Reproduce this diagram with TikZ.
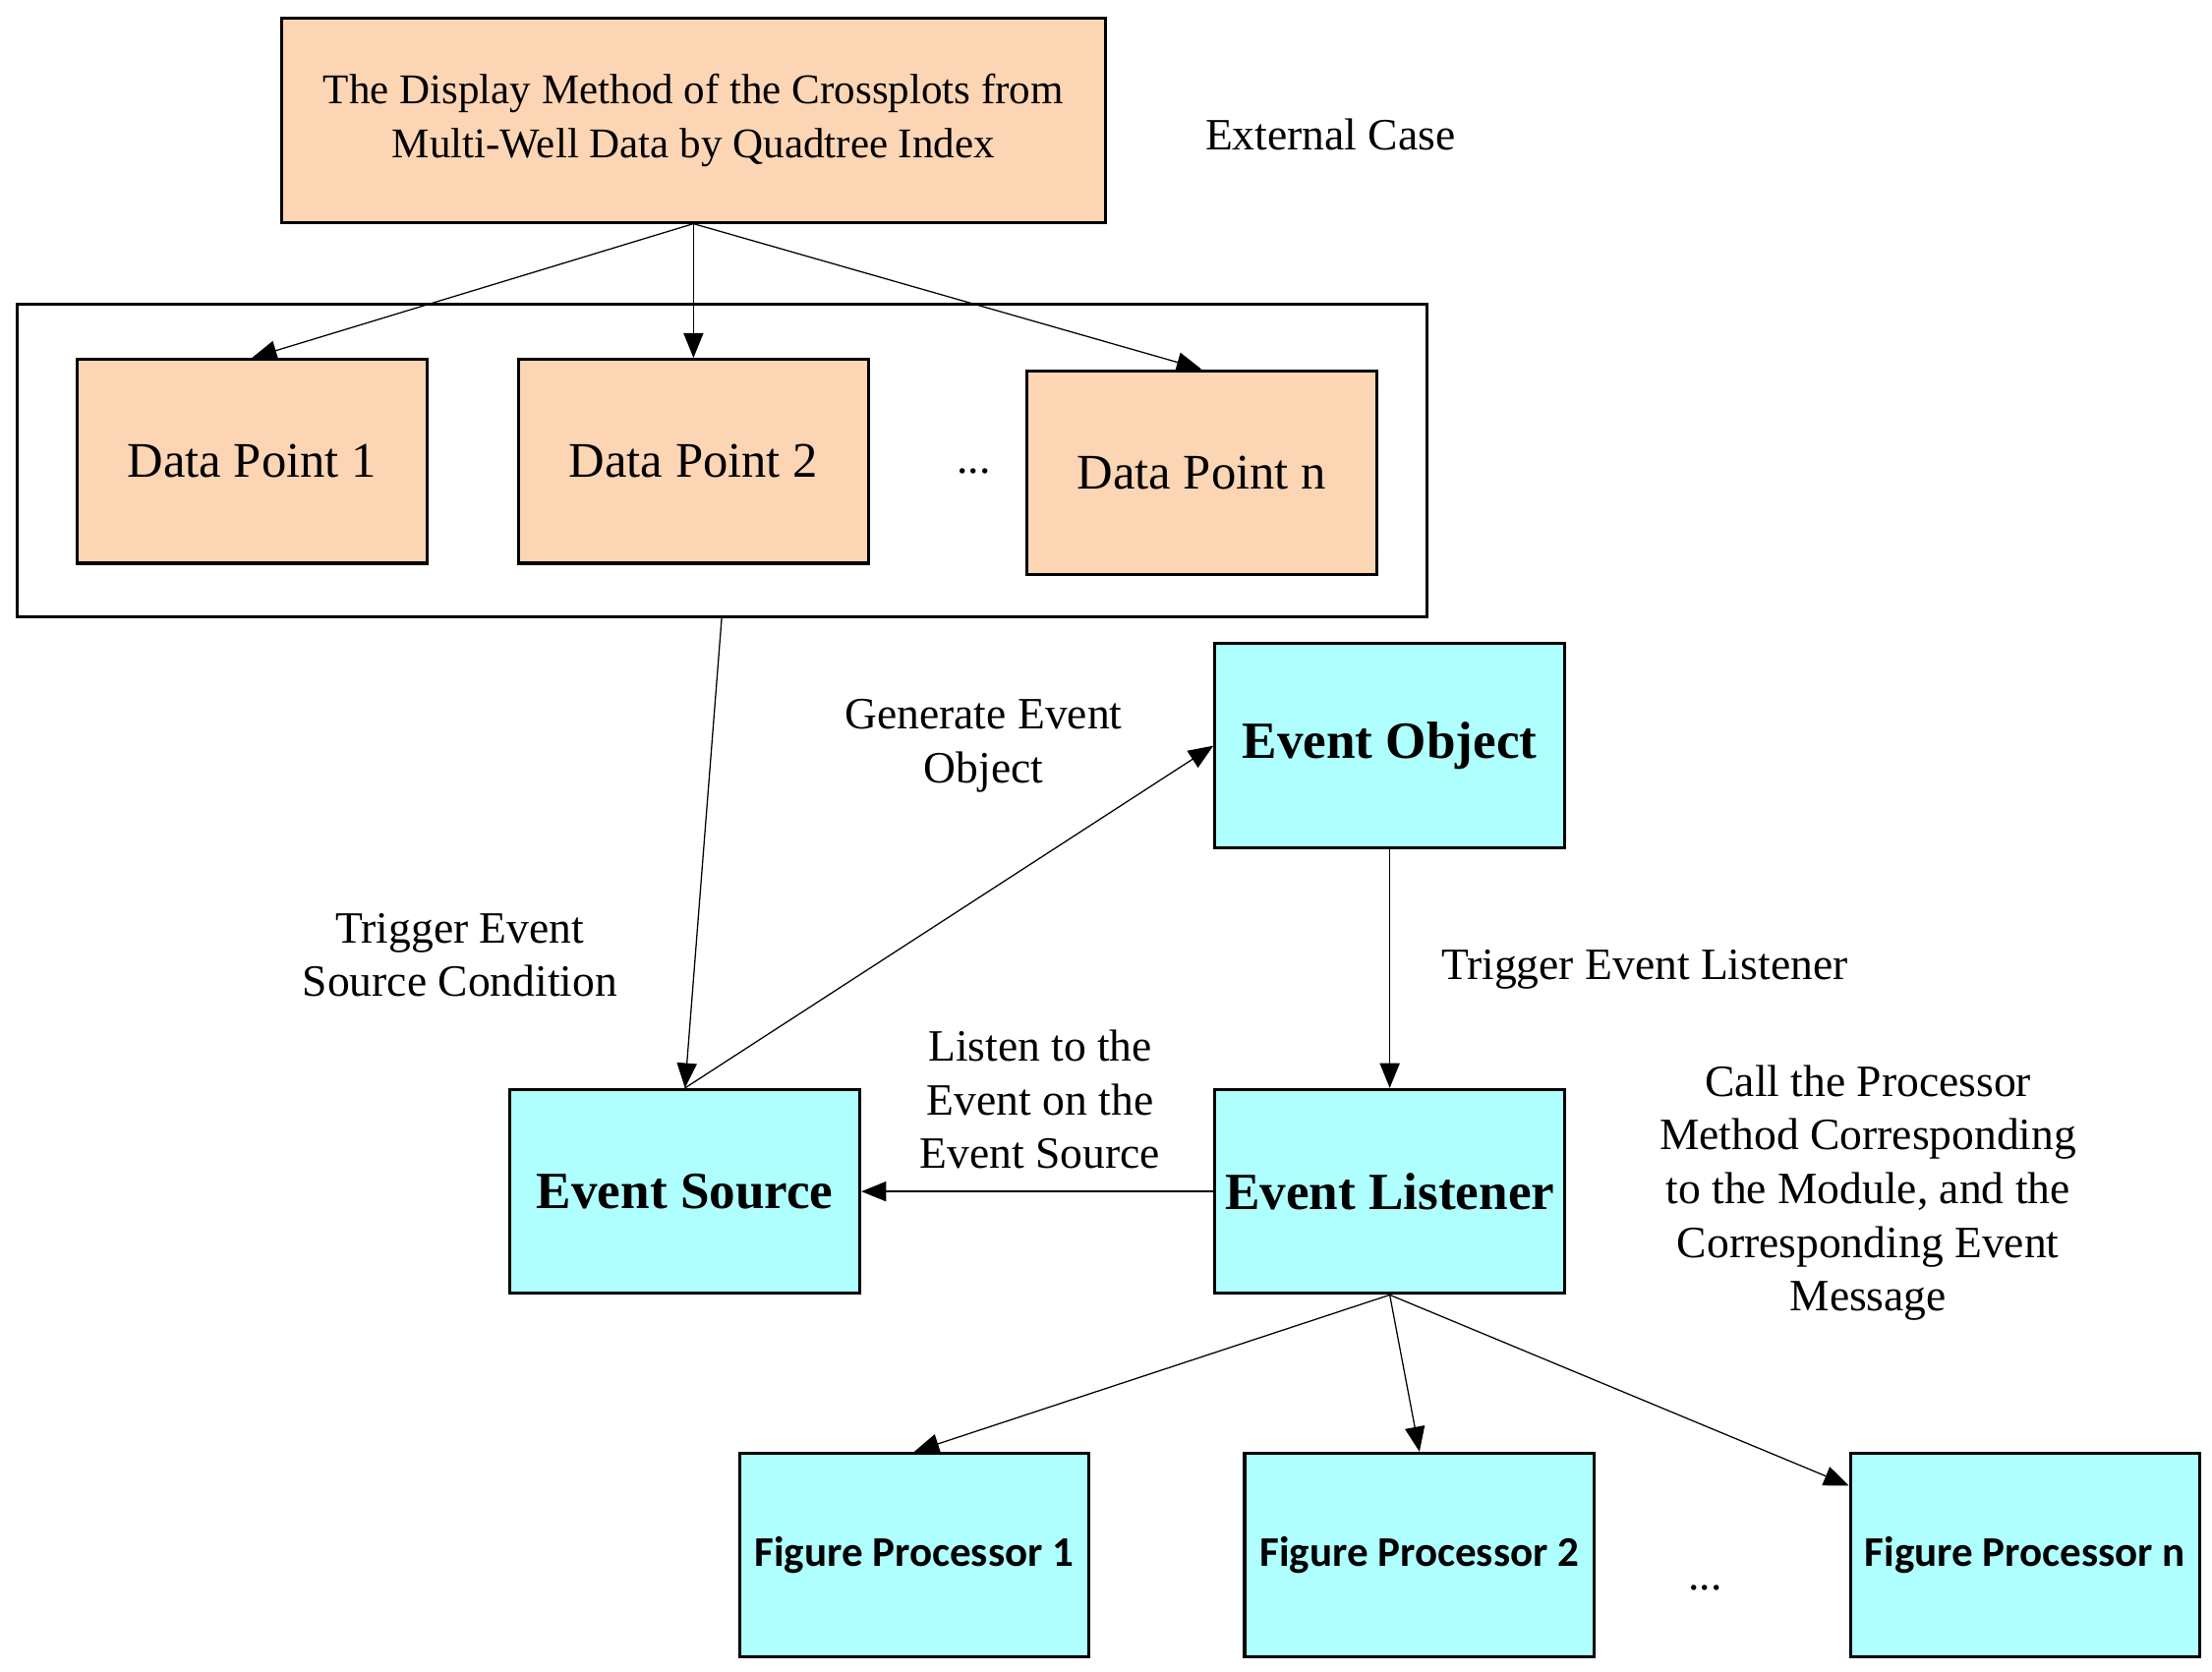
\documentclass[tikz,border=0pt]{standalone}
\usepackage{fontspec}
\setmainfont{Liberation Serif}
\newfontfamily\fpfont{Carlito}
\usetikzlibrary{arrows.meta}
\definecolor{peach}{HTML}{FCD5B5}
\definecolor{aqua}{HTML}{AFFFFF}
\tikzset{
  box/.style={draw,line width=0.6pt,minimum width=2.47cm,minimum height=1.44cm,inner sep=0pt,align=center},
  dbox/.style={box,fill=peach,font=\fontsize{10}{11}\selectfont},
  ebox/.style={box,fill=aqua,font=\bfseries\fontsize{10.5}{12.5}\selectfont},
  fbox/.style={box,fill=aqua,font=\fpfont\bfseries\fontsize{8.5}{10}\selectfont},
  lbl/.style={align=center,font=\fontsize{9}{10.8}\selectfont},
  arr/.style={-{Triangle[length=5pt,width=4pt]},line width=0.25pt}
}
\begin{document}
\begin{tikzpicture}[x=0.01cm,y=-0.01cm]
\useasboundingbox (0,0) rectangle (1563,1181);
%top case
\node[box,fill=peach,minimum width=5.82cm,font=\fontsize{8.5}{11}\selectfont] (case) at (490,85) {The Display Method of the Crossplots from\\Multi-Well Data by Quadtree Index};
\node[lbl] (ext) at (940,95) {External Case};
%data points
\draw[line width=0.6pt] (12,215) rectangle (1008,436);
\coordinate (cont) at (510,436);
\node[dbox] (dp1) at (178,326) {Data Point 1};
\node[dbox] (dp2) at (490,326) {Data Point 2};
\node[dbox] (dpn) at (849,334) {Data Point n};
\node[lbl] (dots1) at (688,333) {...};
%events
\node[ebox] (eobj) at (982,527) {Event Object};
\node[ebox] (esrc) at (484,842) {Event Source};
\node[ebox] (elis) at (982,842) {Event Listener};
%processors
\node[fbox] (fp1) at (646,1099) {Figure Processor 1};
\node[fbox] (fp2) at (1003,1099) {Figure Processor 2};
\node[fbox] (fpn) at (1431,1099) {Figure Processor n};
\node[lbl] (dots2) at (1205,1122) {...};
%labels
\node[lbl] at (695,527) {Generate Event\\Object};
\node[lbl] at (325,675) {Trigger Event\\Source Condition};
\node[lbl] at (1162,685) {Trigger Event Listener};
\node[lbl] at (735,777) {Listen to the\\Event on the\\Event Source};
\node[lbl] at (1320,843) {Call the Processor\\Method Corresponding\\to the Module, and the\\Corresponding Event\\Message};
%arrows
\draw[arr] (case.south) -- (dp1.north);
\draw[arr] (case.south) -- (dp2.north);
\draw[arr] (case.south) -- (dpn.north);
\draw[arr] (cont) -- (esrc.north);
\draw[arr] (esrc.north) -- (eobj.west);
\draw[arr] (eobj.south) -- (elis.north);
\draw[arr] (elis.west) -- (esrc.east);
\draw[arr] (elis.south) -- (fp1.north);
\draw[arr] (elis.south) -- (fp2.north);
\draw[arr] (elis.south) -- ([yshift=-0.24cm]fpn.north west);
\end{tikzpicture}
\end{document}
